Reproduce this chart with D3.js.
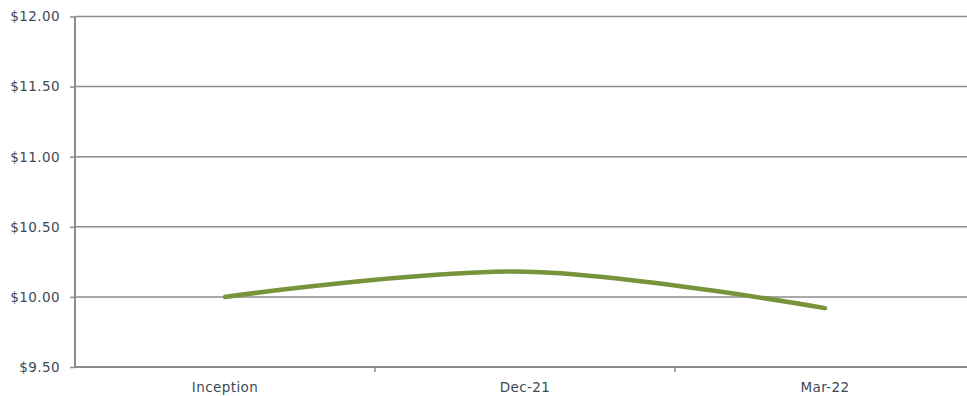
<!DOCTYPE html>
<html><head><meta charset="utf-8">
<script src="https://cdn.jsdelivr.net/npm/d3@7"></script>
<style>
html,body{margin:0;padding:0;background:#fff;}
svg{display:block;}
text{font-family:"DejaVu Sans",sans-serif;}
</style></head>
<body>
<svg id="c" width="967" height="396"></svg>
<script>
const categories = ["Inception", "Dec-21", "Mar-22"];
const navValues = [10.00, 10.18, 9.92];
const yTicks = [9.5, 10.0, 10.5, 11.0, 11.5, 12.0];

const svg = d3.select("#c");
const mLeft = 75, mRight = 975, mTop = 16.5, mBottom = 367;
const fontStyle = sel => sel.attr("fill", "#3b4a57").style("font-size", "13.5px")
  .style("font-family", "'DejaVu Sans', sans-serif").style("letter-spacing", "0.4px");

const x = d3.scaleBand().domain(categories).range([mLeft, mRight]).padding(0);
const y = d3.scaleLinear().domain([9.5, 12.0]).range([mBottom, mTop]);

// gridlines
svg.append("g").selectAll("line").data(yTicks.filter(d => d > 9.5)).join("line")
  .attr("x1", mLeft).attr("x2", 967)
  .attr("y1", d => y(d)).attr("y2", d => y(d))
  .attr("stroke", "#8c8c8c").attr("stroke-width", 1.5);

// y axis
const yAxis = d3.axisLeft(y).tickValues(yTicks).tickSize(5).tickPadding(10)
  .tickFormat(d => "$" + d3.format(".2f")(d));
const gy = svg.append("g").attr("transform", `translate(${mLeft},0)`).call(yAxis);
gy.select(".domain").attr("stroke", "#8c8c8c").attr("stroke-width", 2).attr("d", `M0,${mTop}V${mBottom}`);
gy.selectAll(".tick line").attr("stroke", "#8c8c8c").attr("stroke-width", 1.5);
gy.selectAll(".tick text").call(fontStyle);

// x axis
const xAxis = d3.axisBottom(x).tickSize(0).tickPadding(15);
const gx = svg.append("g").attr("transform", `translate(0,${mBottom})`).call(xAxis);
gx.select(".domain").attr("stroke", "#8c8c8c").attr("stroke-width", 2).attr("d", `M${mLeft},0H967`);
gx.selectAll(".tick text").call(fontStyle);
// category boundary ticks
svg.append("g").selectAll("line").data(categories.slice(1)).join("line")
  .attr("x1", d => x(d)).attr("x2", d => x(d))
  .attr("y1", mBottom).attr("y2", mBottom + 5)
  .attr("stroke", "#8c8c8c").attr("stroke-width", 1.5);

// line
const line = d3.line()
  .x((d, i) => x(categories[i]) + x.bandwidth() / 2)
  .y(d => y(d))
  .curve(d3.curveCatmullRom.alpha(0.5));
svg.append("path").datum(navValues)
  .attr("d", line)
  .attr("fill", "none")
  .attr("stroke", "#77933c")
  .attr("stroke-width", 4.5)
  .attr("stroke-linecap", "round");
</script>
</body></html>
